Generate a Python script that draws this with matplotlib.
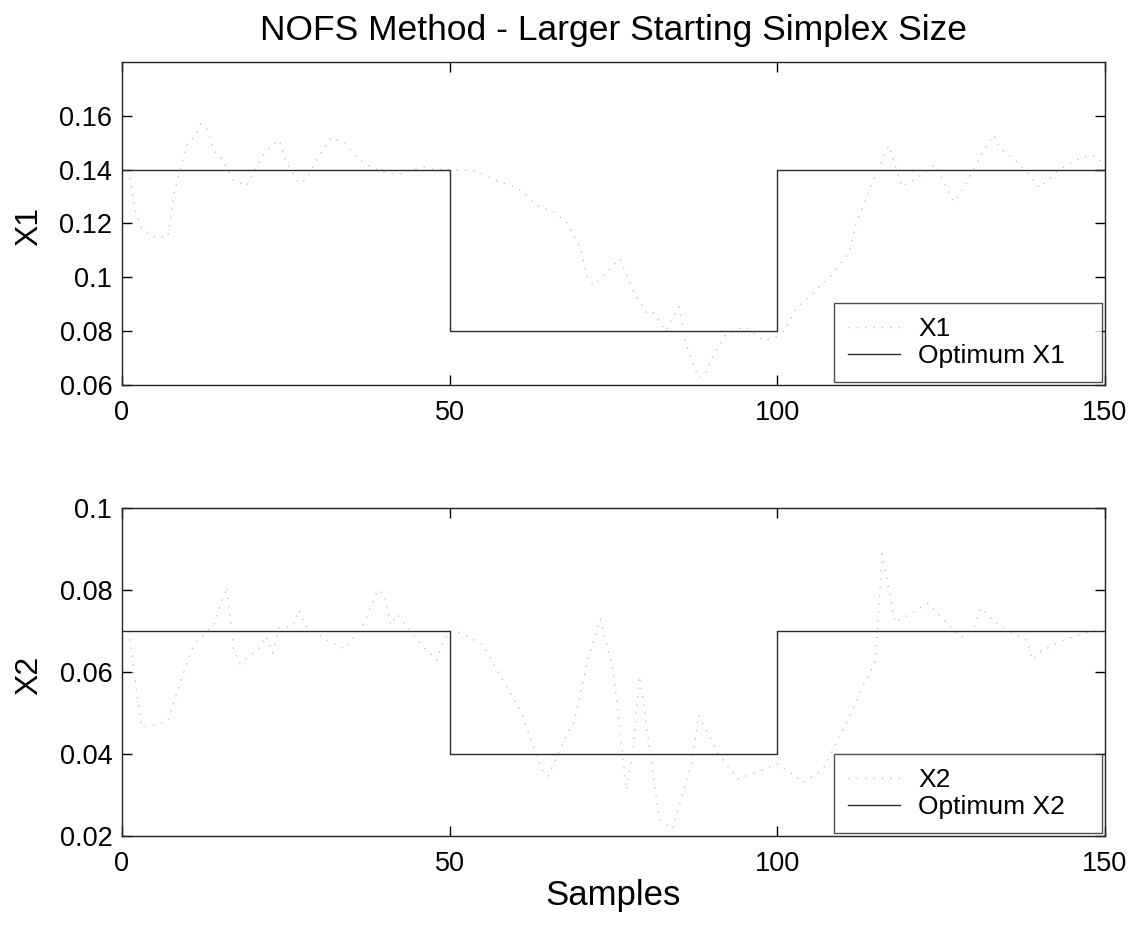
import matplotlib
matplotlib.use("Agg")
import matplotlib.pyplot as plt

plt.rcParams['font.family'] = ['Liberation Sans', 'DejaVu Sans']

title = "NOFS Method - Larger Starting Simplex Size"

# X1 trajectory (sample, value)
x1_samples = [1, 2, 3, 5, 7, 8, 10, 11, 12, 13, 14, 15, 17, 19, 21, 22, 24, 25, 27, 28,
              30, 32, 34, 36, 38, 40, 42, 44, 46, 48, 50,
              51, 54, 57, 60, 62, 63, 66, 68, 70, 71, 72, 74, 76, 78, 80, 81, 83, 85, 86,
              88, 89, 90, 92, 95, 98, 100,
              101, 103, 105, 106, 108, 111, 112, 115, 117, 119, 122, 124, 127, 129, 131,
              133, 134, 137, 140, 143, 146, 148, 150]
x1_values = [0.140, 0.125, 0.118, 0.115, 0.115, 0.132, 0.150, 0.152, 0.157, 0.155, 0.147, 0.145,
             0.136, 0.134, 0.143, 0.147, 0.151, 0.143, 0.135, 0.136,
             0.145, 0.152, 0.150, 0.144, 0.141, 0.139, 0.138, 0.140, 0.141, 0.140, 0.140,
             0.140, 0.1396, 0.136, 0.1336, 0.130, 0.127, 0.124, 0.120, 0.1105, 0.100, 0.097,
             0.102, 0.107, 0.095, 0.087, 0.0873, 0.080, 0.089, 0.0757,
             0.0626, 0.064, 0.070, 0.0783, 0.0817, 0.0764, 0.078,
             0.080, 0.0888, 0.0929, 0.0955, 0.100, 0.1093, 0.120, 0.138, 0.149, 0.1336,
             0.138, 0.1419, 0.128, 0.1355, 0.145, 0.153, 0.148, 0.142, 0.1333, 0.140,
             0.144, 0.1456, 0.142]

# X2 trajectory (sample, value)
x2_samples = [1, 3, 5, 7, 9, 10, 11, 14, 16, 17, 18, 21, 22, 23, 24, 26, 27, 28, 31, 34,
              37, 39, 40, 41, 42, 44, 46, 48, 49, 50,
              51, 55, 58, 61, 64, 65, 68, 69, 71, 73, 75, 77, 78, 79, 82, 84, 85, 87, 88,
              91, 94, 97, 100,
              102, 104, 107, 109, 111, 113, 115, 116, 118, 123, 128, 130, 131, 134, 138,
              139, 140, 144, 148, 150]
x2_values = [0.070, 0.0466, 0.047, 0.048, 0.058, 0.0624, 0.0668, 0.0715, 0.0807, 0.0656,
             0.062, 0.0659, 0.0688, 0.0646, 0.0707, 0.071, 0.0751, 0.0712, 0.068, 0.0656,
             0.072, 0.080, 0.079, 0.0715, 0.0741, 0.070, 0.066, 0.0629, 0.0673, 0.070,
             0.070, 0.0668, 0.0583, 0.050, 0.0363, 0.0346, 0.0451, 0.0478, 0.0624, 0.0729,
             0.060, 0.0312, 0.0415, 0.059, 0.0241, 0.0217, 0.0273, 0.038, 0.0495,
             0.040, 0.0339, 0.0356, 0.0376,
             0.0354, 0.033, 0.0363, 0.0427, 0.049, 0.0563, 0.0627, 0.0888, 0.072, 0.0768,
             0.0683, 0.0707, 0.0756, 0.071, 0.0678, 0.0629, 0.0649, 0.068, 0.070, 0.070]

# Optimum step values
opt_edges = [0, 50, 100, 150]
opt_x1 = [0.14, 0.08, 0.14]
opt_x2 = [0.07, 0.04, 0.07]

xticks = [0, 50, 100, 150]
y1_ticks = [0.06, 0.08, 0.1, 0.12, 0.14, 0.16]
y1_labels = ["0.06", "0.08", "0.1", "0.12", "0.14", "0.16"]
y2_ticks = [0.02, 0.04, 0.06, 0.08, 0.1]
y2_labels = ["0.02", "0.04", "0.06", "0.08", "0.1"]

fig = plt.figure(figsize=(11.39, 9.32), dpi=100)
ax1 = fig.add_axes([0.1071, 0.5869, 0.863, 0.3466])
ax2 = fig.add_axes([0.1071, 0.1030, 0.863, 0.3520])

def step_xy(edges, vals):
    xs, ys = [], []
    for i, v in enumerate(vals):
        xs += [edges[i], edges[i + 1]]
        ys += [v, v]
    return xs, ys

faint = '#c4c4c4'
for ax, xs, ys, opt, name, yt, yl, ylim in [
        (ax1, x1_samples, x1_values, opt_x1, 'X1', y1_ticks, y1_labels, (0.06, 0.18)),
        (ax2, x2_samples, x2_values, opt_x2, 'X2', y2_ticks, y2_labels, (0.02, 0.1))]:
    ax.plot(xs, ys, color=faint, lw=1.0, linestyle=(0, (1.0, 5.0)), label=name)
    sx, sy = step_xy(opt_edges, opt)
    ax.plot(sx, sy, color='#2a2a2a', lw=1.0, label='Optimum ' + name)
    ax.set_xlim(0, 150)
    ax.set_ylim(*ylim)
    ax.set_xticks(xticks)
    ax.set_xticklabels([str(t) for t in xticks])
    ax.set_yticks(yt)
    ax.set_yticklabels(yl)
    ax.tick_params(direction='in', length=7, width=1, top=True, right=True,
                   labelsize=19.5, colors='black')
    ax.tick_params(axis='x', pad=11)
    ax.tick_params(axis='y', pad=7)
    for s in ax.spines.values():
        s.set_linewidth(1.0)
        s.set_color('#222222')
    ax.set_ylabel(name, fontsize=23)
    ax.yaxis.set_label_coords(-0.079, 0.49)
    leg = ax.legend(loc='lower left', bbox_to_anchor=(0.7243, 0.008, 0.2725, 0.2),
                    mode='expand', fontsize=19, frameon=True, fancybox=False,
                    edgecolor='#222222', borderpad=0.55, handlelength=1.95,
                    handletextpad=0.7, borderaxespad=0.0, labelspacing=0.1)
    leg.get_frame().set_linewidth(1.0)

ax1.set_title(title, fontsize=25.5, pad=16)
ax2.set_xlabel('Samples', fontsize=25)
ax2.xaxis.set_label_coords(0.5, -0.13)

fig.savefig('out.png', dpi=100, facecolor='white')
